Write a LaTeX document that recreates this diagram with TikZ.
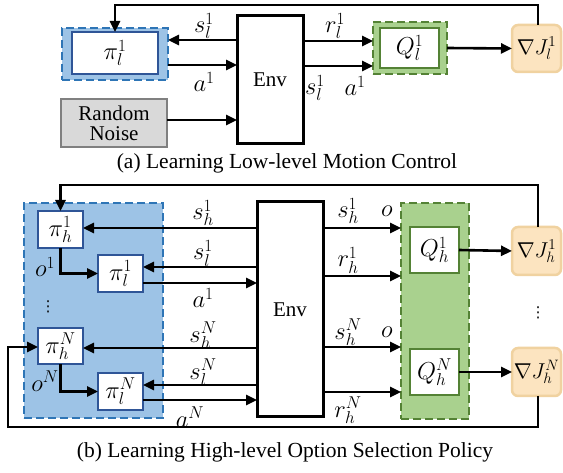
\RequirePackage{fix-cm}
\documentclass[tikz,border=0pt]{standalone}
\usepackage{fontspec}
\setmainfont{Liberation Serif}
\newfontfamily\dvfont{DejaVu Sans}
\usetikzlibrary{arrows.meta}
\definecolor{bfill}{HTML}{9DC3E6}
\definecolor{bdash}{HTML}{2E75B6}
\definecolor{bbord}{HTML}{2F5597}
\definecolor{gfill}{HTML}{A9D18E}
\definecolor{gbord}{HTML}{548235}
\definecolor{ofill}{HTML}{FCE4C0}
\definecolor{obord}{HTML}{F0D2A0}
\definecolor{nfill}{HTML}{D9D9D9}
\definecolor{nbord}{HTML}{808080}
\begin{document}
\begin{tikzpicture}[x=1pt,y=-1pt,
  every node/.style={font=\fontsize{21}{23}\selectfont, inner sep=0pt, outer sep=0pt},
  captext/.style={font=\fontsize{21.5}{24}\selectfont},
  m/.style={font=\fontsize{24.5}{27}\selectfont},
  dots/.style={font=\dvfont\fontsize{15}{17}\selectfont},
  arr/.style={line width=2.6pt,-{Triangle[length=11pt,width=10pt]}},
  envbox/.style={draw, line width=3pt, fill=white},
  bregion/.style={draw=bdash, fill=bfill, line width=2.5pt, dash pattern=on 8pt off 4pt},
  gregion/.style={draw=gbord, fill=gfill, line width=2.5pt, dash pattern=on 8pt off 4pt},
  bbox/.style={draw=bbord, fill=white, line width=2.6pt, m},
  gbox/.style={draw=gbord, fill=white, line width=2.6pt, m},
  gradbox/.style={draw=obord, fill=ofill, line width=2.5pt, rounded corners=6pt, font=\fontsize{21.5}{24}\selectfont}
]
\useasboundingbox (0,0) rectangle (563,473);

% ---------- (a) ----------
\node[bregion, minimum width=106pt, minimum height=52pt] (pilout) at (115,54) {};
\node[bbox, minimum width=86pt, minimum height=42pt] (pil) at (115,53) {$\pi_l^1$};
\node[draw=nbord, fill=nfill, line width=2.6pt, minimum width=106pt, minimum height=48pt, align=center] (noise) at (114,123) {Random\\[-3pt]Noise};
\node[envbox, minimum width=66pt, minimum height=128pt] (env) at (270,80) {Env};
\node[gregion, minimum width=74pt, minimum height=52pt] (qout) at (410,48) {};
\node[gbox, minimum width=59pt, minimum height=40pt] (q) at (409.5,48) {$Q_l^1$};
\node[gradbox, minimum width=49pt, minimum height=47pt] (grad) at (536.5,48.5) {$\nabla J_l^1$};

\draw[arr] (env.west |- 0,40) -- (pilout.east |- 0,40);
\draw[arr] (pilout.east |- 0,65) -- (env.west |- 0,65);
\draw[arr] (noise.east |- 0,120) -- (env.west |- 0,120);
\draw[arr] (env.east |- 0,41) -- (qout.west |- 0,41);
\draw[arr] (env.east |- 0,66) -- (qout.west |- 0,66);
\draw[arr] (qout.east) -- (grad.west);
\coordinate (fa1) at (538,5);
\coordinate (fa2) at (115,5);
\draw[arr] ([xshift=1.5pt]grad.north) -- (fa1) -- (fa2) -- (pil.north);

\node[m] at (204,26) {$s_l^1$};
\node[m] at (204,82) {$a^1$};
\node[m] at (335,26) {$r_l^1$};
\node[m] at (315,88) {$s_l^1$};
\node[m] at (355,86) {$a^1$};
\node[captext] (capa) at (287,163) {(a) Learning Low-level Motion Control};

% ---------- (b) ----------
\node[bregion, minimum width=139pt, minimum height=215pt] (breg) at (93.5,310.5) {};
\node[bbox, minimum width=45pt, minimum height=37pt] (pih1) at (60.5,229.5) {$\pi_h^1$};
\node[bbox, minimum width=45pt, minimum height=37pt] (pil1) at (120.5,273.5) {$\pi_l^1$};
\node[bbox, minimum width=45pt, minimum height=36pt] (pihN) at (60.5,346) {$\pi_h^N$};
\node[bbox, minimum width=45pt, minimum height=37pt] (pilN) at (120.5,391.5) {$\pi_l^N$};
\node[dots] at (48,307) {⋮};
\node[envbox, minimum width=66pt, minimum height=215pt] (env2) at (290,309.5) {Env};
\node[gregion, minimum width=68pt, minimum height=216pt] (greg) at (435,311) {};
\node[gbox, minimum width=49pt, minimum height=46pt] (qh1) at (434.5,250) {$Q_h^1$};
\node[gbox, minimum width=49pt, minimum height=46pt] (qhN) at (434.5,372) {$Q_h^N$};
\node[gradbox, minimum width=49pt, minimum height=48pt] (gh1) at (536.5,251) {$\nabla J_h^1$};
\node[gradbox, minimum width=49pt, minimum height=48pt] (ghN) at (536.5,372) {$\nabla J_h^N$};
\node[dots] at (538,313) {⋮};

\draw[arr] (env2.west |- 0,228) -- (pih1.east |- 0,228);
\draw[arr] (env2.west |- 0,267) -- (pil1.east |- 0,267);
\draw[arr] (pil1.east |- 0,283) -- (env2.west |- 0,283);
\draw[arr] (env2.west |- 0,348) -- (pihN.east |- 0,348);
\draw[arr] (env2.west |- 0,385) -- (pilN.east |- 0,385);
\draw[arr] (pilN.east |- 0,400) -- (env2.west |- 0,400);
\draw[arr] (pih1.south) |- (pil1.west);
\draw[arr] (pihN.south) |- (pilN.west);

\draw[arr] (env2.east |- 0,228) -- (greg.west |- 0,228);
\draw[arr] (env2.east |- 0,276) -- (greg.west |- 0,276);
\draw[arr] (env2.east |- 0,347) -- (greg.west |- 0,347);
\draw[arr] (env2.east |- 0,392) -- (greg.west |- 0,392);
\draw[arr] (qh1.east) -- (gh1.west);
\draw[arr] (qhN.east) -- (ghN.west);

\coordinate (fb1) at (538,185);
\coordinate (fb2) at (60.5,185);
\draw[arr] ([xshift=1.5pt]gh1.north) -- (fb1) -- (fb2) -- (pih1.north);
\coordinate (fc1) at (538,427);
\coordinate (fc2) at (8,427);
\coordinate (fc3) at (8,347);
\draw[arr] ([xshift=1.5pt]ghN.south) -- (fc1) -- (fc2) -- (fc3) -- (pihN.west |- fc3);

\node[m] at (203,213) {$s_h^1$};
\node[m] at (203,253) {$s_l^1$};
\node[m] at (203,298) {$a^1$};
\node[m] at (203,335) {$s_h^N$};
\node[m] at (203,372) {$s_l^N$};
\node[m] at (190,417) {$a^N$};
\node[m] at (45,267) {$o^1$};
\node[m] at (45,381) {$o^N$};
\node[m] at (348,211) {$s_h^1$};
\node[m] at (387,211) {$o$};
\node[m] at (348,260) {$r_h^1$};
\node[m] at (348,332) {$s_h^N$};
\node[m] at (387,332) {$o$};
\node[m] at (348,410) {$r_h^N$};
\node[captext] (capb) at (285,452) {(b) Learning High-level Option Selection Policy};
\end{tikzpicture}
\end{document}
